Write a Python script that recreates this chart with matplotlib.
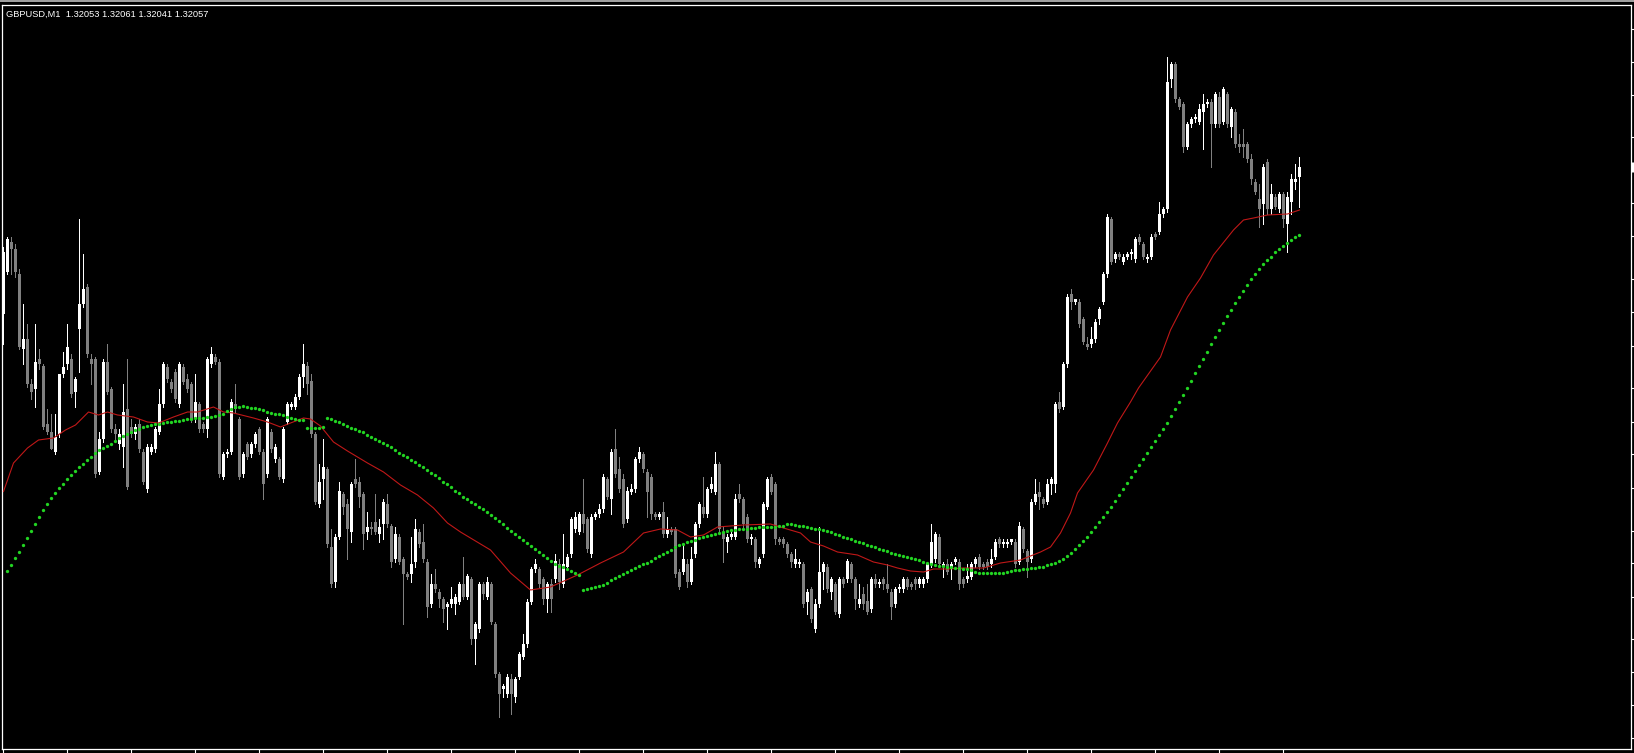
import matplotlib
matplotlib.use("Agg")
import matplotlib.pyplot as plt
import matplotlib.transforms as mtransforms
from matplotlib.patches import Rectangle
import numpy as np

SYMBOL = "GBPUSD,M1"
BASE = 1.31800     # all price values below are points (0.00001) above this level
POINT = 0.00001

# one-minute candles, bar 0 = oldest
opens = [
    198, 215, 227, 224, 214, 184, 188, 170, 168, 180,
    177, 154, 151, 143, 150, 174, 178, 180, 167, 192,
    202, 209, 180, 180, 135, 148, 179, 168, 152, 146,
    145, 160, 153, 150, 154, 143, 128, 143, 144, 151,
    162, 177, 171, 175, 162, 177, 172, 170, 156, 162,
    154, 152, 178, 181, 179, 133, 142, 143, 162, 156,
    134, 146, 142, 146, 152, 143, 134, 151, 140, 140,
    132, 155, 161, 161, 165, 173, 177, 171, 150, 122,
    132, 136, 105, 91, 109, 126, 122, 111, 132, 131,
    126, 111, 113, 115, 110, 114, 122, 113, 100, 109,
    100, 94, 94, 99, 111, 107, 99, 82, 90, 87,
    84, 81, 82, 82, 83, 90, 85, 92, 68, 72,
    90, 85, 90, 74, 54, 48, 46, 52, 45, 53,
    61, 66, 83, 96, 96, 92, 84, 90, 92, 98,
    90, 97, 102, 112, 111, 118, 116, 102, 117, 118,
    120, 132, 124, 144, 136, 132, 116, 127, 128, 140,
    142, 135, 133, 118, 117, 119, 110, 112, 112, 95,
    95, 98, 91, 102, 114, 121, 118, 128, 127, 138,
    111, 107, 109, 109, 126, 124, 117, 108, 108, 98,
    102, 121, 133, 130, 108, 108, 106, 102, 98, 98,
    98, 83, 88, 72, 82, 95, 97, 87, 90, 78,
    92, 92, 98, 92, 82, 86, 83, 80, 92, 90,
    92, 90, 87, 82, 88, 88, 92, 90, 92, 90,
    90, 92, 98, 100, 109, 97, 98, 96, 99, 99,
    92, 92, 93, 98, 101, 98, 99, 98, 101, 108,
    106, 106, 107, 107, 99, 112, 103, 100, 123, 127,
    124, 123, 130, 130, 163, 161, 178, 206, 203, 203,
    196, 186, 186, 188, 196, 203, 214, 236, 220, 222,
    219, 221, 222, 220, 229, 226, 220, 221, 230, 231,
    238, 240, 292, 298, 284, 282, 265, 274, 276, 275,
    279, 282, 283, 274, 285, 275, 286, 273, 279, 266,
    266, 266, 260, 251, 244, 242, 259, 240, 245, 240,
    246, 234, 243, 251, 253,
]
highs = [
    225, 229, 229, 226, 216, 202, 194, 172, 194, 184,
    178, 160, 158, 158, 174, 183, 194, 182, 173, 236,
    222, 210, 182, 181, 151, 180, 186, 169, 154, 152,
    170, 180, 156, 154, 156, 144, 146, 146, 153, 168,
    179, 178, 172, 176, 179, 178, 174, 171, 174, 163,
    155, 181, 185, 182, 180, 143, 144, 164, 170, 157,
    143, 147, 147, 151, 153, 144, 157, 152, 146, 141,
    153, 163, 163, 166, 174, 186, 179, 174, 151, 138,
    148, 137, 112, 110, 131, 127, 124, 131, 140, 133,
    127, 119, 115, 126, 116, 124, 126, 114, 113, 110,
    101, 95, 109, 116, 112, 114, 100, 94, 96, 88,
    85, 83, 89, 86, 91, 101, 94, 93, 75, 91,
    91, 93, 91, 75, 55, 50, 54, 54, 53, 63,
    70, 84, 97, 100, 97, 93, 91, 92, 102, 100,
    110, 102, 117, 119, 119, 132, 117, 118, 119, 122,
    134, 133, 144, 152, 141, 134, 129, 130, 141, 145,
    143, 136, 134, 119, 119, 123, 117, 113, 113, 96,
    106, 100, 105, 115, 123, 133, 129, 133, 143, 139,
    113, 110, 111, 126, 130, 125, 118, 110, 109, 101,
    123, 133, 134, 131, 109, 109, 107, 103, 104, 100,
    99, 88, 89, 84, 113, 99, 98, 93, 91, 93,
    93, 100, 99, 93, 90, 89, 90, 93, 94, 92,
    93, 98, 88, 89, 90, 93, 93, 91, 93, 93,
    93, 99, 114, 111, 110, 99, 100, 99, 101, 100,
    93, 98, 99, 101, 102, 99, 100, 104, 108, 109,
    108, 108, 108, 108, 115, 113, 104, 124, 132, 131,
    125, 132, 133, 163, 167, 179, 206, 208, 204, 204,
    197, 189, 193, 196, 201, 215, 238, 237, 223, 223,
    222, 223, 224, 229, 230, 227, 222, 230, 231, 243,
    241, 301, 299, 299, 285, 283, 275, 277, 278, 282,
    286, 284, 284, 287, 287, 289, 287, 281, 280, 270,
    272, 267, 262, 252, 250, 258, 260, 250, 246, 247,
    247, 247, 254, 258, 261,
]
lows = [
    186, 214, 214, 213, 184, 178, 169, 164, 161, 176,
    152, 150, 144, 142, 149, 173, 176, 165, 161, 175,
    201, 181, 170, 133, 134, 147, 166, 151, 148, 144,
    137, 128, 149, 148, 143, 130, 127, 142, 143, 150,
    161, 171, 167, 163, 161, 170, 167, 155, 155, 151,
    151, 149, 177, 178, 133, 132, 141, 142, 159, 132,
    133, 140, 141, 145, 142, 124, 133, 143, 139, 132,
    131, 154, 160, 160, 164, 169, 166, 149, 122, 121,
    124, 105, 89, 89, 108, 118, 100, 107, 129, 121,
    104, 108, 110, 110, 107, 108, 113, 97, 99, 98,
    74, 92, 91, 97, 105, 99, 77, 81, 87, 81,
    75, 72, 81, 78, 82, 84, 84, 66, 58, 71,
    84, 84, 74, 53, 37, 45, 45, 38, 43, 52,
    60, 65, 82, 95, 89, 82, 79, 79, 91, 88,
    89, 96, 101, 111, 110, 111, 103, 101, 116, 117,
    119, 124, 118, 133, 127, 113, 115, 126, 127, 139,
    135, 117, 116, 116, 116, 109, 109, 110, 93, 88,
    94, 89, 90, 101, 113, 117, 117, 127, 126, 111,
    99, 103, 108, 108, 123, 113, 107, 106, 97, 97,
    101, 120, 126, 106, 106, 105, 101, 97, 97, 97,
    81, 78, 75, 71, 81, 88, 87, 84, 78, 77,
    89, 91, 91, 80, 81, 80, 78, 79, 89, 89,
    88, 87, 76, 81, 87, 87, 88, 88, 88, 89,
    89, 91, 97, 99, 97, 93, 94, 92, 98, 88,
    89, 91, 92, 97, 96, 96, 96, 97, 100, 105,
    105, 105, 106, 97, 98, 103, 93, 99, 122, 120,
    121, 122, 126, 127, 159, 160, 177, 200, 202, 193,
    186, 184, 185, 187, 194, 202, 213, 218, 219, 220,
    218, 220, 220, 219, 226, 220, 219, 220, 228, 230,
    237, 239, 289, 283, 280, 263, 264, 273, 275, 274,
    264, 281, 257, 273, 273, 274, 273, 269, 265, 263,
    261, 259, 250, 246, 233, 234, 238, 238, 240, 239,
    233, 223, 238, 248, 241,
]
closes = [
    223, 228, 224, 215, 185, 188, 170, 167, 179, 178,
    153, 151, 144, 149, 174, 177, 185, 166, 172, 202,
    208, 182, 178, 134, 148, 179, 167, 152, 150, 150,
    159, 129, 150, 153, 144, 131, 145, 145, 152, 162,
    178, 172, 168, 164, 178, 171, 168, 156, 163, 152,
    152, 180, 182, 179, 134, 142, 143, 163, 160, 133,
    142, 141, 146, 150, 143, 130, 156, 144, 145, 133,
    152, 162, 162, 165, 173, 178, 170, 150, 123, 131,
    137, 106, 90, 109, 127, 121, 112, 130, 130, 125,
    110, 113, 112, 111, 113, 123, 114, 99, 110, 99,
    94, 93, 98, 112, 106, 100, 81, 90, 88, 84,
    80, 82, 84, 85, 90, 85, 93, 68, 74, 90,
    86, 91, 75, 54, 46, 49, 53, 46, 52, 62,
    66, 83, 96, 98, 90, 84, 90, 84, 99, 91,
    98, 101, 116, 117, 118, 114, 104, 117, 118, 120,
    133, 125, 143, 134, 128, 114, 127, 128, 140, 143,
    136, 127, 118, 117, 118, 110, 112, 111, 94, 89,
    100, 91, 100, 114, 122, 118, 128, 130, 138, 112,
    108, 109, 110, 124, 124, 114, 108, 109, 99, 100,
    122, 132, 127, 108, 107, 106, 102, 99, 100, 99,
    82, 87, 76, 82, 95, 98, 88, 92, 79, 92,
    90, 99, 92, 84, 84, 82, 79, 92, 90, 91,
    90, 88, 81, 88, 89, 92, 89, 89, 90, 92,
    92, 98, 107, 110, 98, 98, 95, 98, 100, 90,
    90, 93, 98, 100, 97, 97, 97, 100, 107, 106,
    107, 107, 108, 98, 113, 104, 99, 123, 126, 125,
    122, 130, 132, 162, 160, 178, 205, 203, 204, 194,
    187, 185, 188, 195, 200, 214, 237, 219, 222, 221,
    221, 222, 223, 228, 227, 221, 221, 229, 229, 238,
    240, 291, 298, 284, 281, 265, 274, 276, 277, 280,
    282, 283, 274, 286, 274, 288, 274, 280, 266, 265,
    265, 260, 252, 247, 240, 257, 240, 246, 241, 246,
    236, 245, 252, 252, 257,
]

# red moving average, read at these bar positions
ma_red_bar = [0, 2.5, 6, 8.75, 12.5, 15.5, 18, 21.25, 23.75, 26,
              28.5, 32.5, 36, 38.75, 42.5, 46, 48.5, 52.5, 55, 57.5,
              62.5, 66, 69.25, 71.75, 75, 76.75, 79.25, 82.5, 86, 91,
              95, 99.25, 103.5, 107.5, 111, 114.25, 116.75, 121.75, 126.75, 131.75,
              136.75, 143.5, 149.25, 155, 160, 164.25, 168.5, 171.75, 175, 178.5,
              185, 191.75, 195, 199.25, 201.75, 205, 208.5, 213.5, 217.5, 221,
              223.5, 226.75, 230, 232.5, 236, 240, 245, 249.25, 254.25, 259.25,
              261.75, 264.25, 266.75, 268.5, 272.5, 276, 278.5, 281.75, 283.75, 289.25,
              291.75, 296, 299.25, 302.5, 307.5, 310, 312.5, 316, 321, 324]
ma_red_pts = [127, 138.4, 144.4, 147.6, 148.4, 151.6, 153.6, 158.8, 157.6, 158.8,
              157.6, 156.8, 154.8, 154.4, 156.8, 158.8, 158.8, 160.8, 158.8, 158.4,
              156.4, 154.8, 152.8, 154.4, 156.4, 156, 153.2, 146.8, 143.2, 138.4,
              134.8, 129.6, 125.6, 120.4, 114.4, 110.8, 108.4, 103.6, 94.4, 87.6,
              88.8, 93.6, 98.4, 102.8, 110.4, 112, 111.6, 108.8, 109.6, 112.8,
              113.6, 114, 112.4, 110.4, 106.8, 105.2, 102.8, 101.6, 98.8, 97.6,
              96.4, 95.2, 94.8, 96, 96, 96.4, 96.4, 98.4, 99.6, 102.8,
              104.8, 110.4, 118.4, 126.4, 135.6, 146.4, 154.4, 162.8, 168.4, 180.8,
              191.6, 204.8, 212.4, 221.6, 231.6, 235.6, 236.4, 237.6, 238, 239.6]

# green dotted indicator, one dot per bar (none on bar 0)
nan = float("nan")
ma_green_pts = [
    nan,
    95.2, 97.8, 100.4, 103.0, 105.6, 108.5, 111.4, 114.2, 117.0, 119.5,
    121.9, 124.4, 126.4, 128.3, 130.1, 131.9, 133.6, 135.2, 136.8, 138.2,
    139.7, 141.0, 142.3, 143.6, 144.4, 145.2, 146.2, 147.3, 148.4, 149.2,
    150.0, 150.8, 151.5, 152.2, 152.9, 153.3, 153.6, 154.0, 154.2, 154.4,
    154.7, 154.9, 155.2, 155.4, 155.7, 155.9, 156.2, 156.4, 156.5, 156.6,
    156.8, 157.0, 157.4, 157.7, 158.2, 159.1, 159.9, 160.8, 161.0, 161.2,
    160.9, 160.6, 160.4, 160.0, 159.5, 159.0, 158.6, 158.2, 157.9, 157.5,
    157.0, 156.5, 156.2, 155.8, 155.5, 152.4, 152.4, 152.6, 152.6, 152.8,
    156.3, 155.9, 155.2, 154.7, 154.0, 153.2, 152.3, 151.9, 151.2, 150.8,
    149.6, 148.9, 148.0, 147.3, 146.3, 145.6, 144.7, 143.6, 142.5, 141.6,
    140.7, 139.6, 138.7, 137.5, 136.7, 135.6, 134.5, 133.5, 132.3, 130.9,
    129.9, 128.7, 127.3, 126.3, 124.9, 123.9, 122.9, 122.0, 121.0, 120.0,
    119.0, 117.7, 116.4, 115.2, 113.9, 112.6, 111.4, 110.1, 108.8, 107.6,
    106.4, 105.2, 104.0, 102.7, 101.5, 100.3, 99.1, 98.2, 97.4, 96.7,
    95.9, 95.2, 94.4, 93.6, 87.6, 87.9, 88.4, 88.8, 89.3, 89.8,
    90.6, 91.5, 92.3, 93.1, 94.0, 94.8, 95.6, 96.3, 97.1, 97.9,
    98.6, 99.4, 100.3, 101.2, 102.0, 102.9, 103.8, 104.7, 105.6, 106.2,
    106.7, 107.3, 107.8, 108.4, 108.9, 109.3, 109.6, 110.0, 110.4, 110.8,
    111.2, 111.6, 111.8, 111.9, 112.1, 112.2, 112.4, 112.5, 112.7, 112.8,
    112.9, 113.0, 113.0, 113.1, 113.2, 114.0, 113.9, 113.7, 113.4, 113.1,
    112.8, 112.5, 112.2, 112.0, 111.7, 111.3, 110.8, 110.2, 109.6, 109.0,
    108.5, 107.9, 107.4, 106.8, 106.3, 105.7, 105.2, 104.7, 104.1, 103.6,
    103.1, 102.5, 102.1, 101.6, 101.2, 100.8, 100.4, 99.9, 99.5, 99.0,
    98.6, 98.0, 97.5, 97.3, 97.1, 97.0, 96.8, 96.6, 96.4, 96.2,
    96.1, 95.8, 94.8, 94.6, 94.5, 94.4, 94.4, 94.4, 94.5, 94.6,
    95.0, 95.4, 95.6, 95.8, 96.0, 96.2, 96.4, 96.5, 96.7, 96.9,
    97.5, 98.0, 98.6, 99.2, 100.0, 101.2, 102.6, 104.2, 105.6, 107.2,
    109.0, 110.8, 112.8, 114.8, 116.8, 118.8, 120.8, 123.2, 125.6, 128.0,
    130.4, 132.8, 135.2, 137.6, 140.0, 142.4, 144.8, 147.2, 149.6, 152.0,
    154.4, 157.2, 160.0, 162.8, 165.6, 168.4, 171.2, 174.4, 177.2, 180.0,
    182.8, 186.0, 188.8, 191.6, 194.4, 197.2, 199.6, 202.4, 204.8, 207.2,
    209.6, 212.0, 214.0, 216.0, 218.0, 219.6, 221.0, 222.8, 224.0, 225.2,
    226.4, 227.6, 228.8, 229.6,
]

# price scale tick marks on the right edge (labels are cut off in the source)
price_tick_pts = [312.0, 298.8, 285.6, 268.8, 242.4, 229.2, 212.0, 198.8, 185.2,
                  168.4, 154.8, 142.0, 128.4, 111.2, 98.4, 84.8, 68.0, 54.8, 41.6, 28.4]

assert len(opens) == len(highs) == len(lows) == len(closes) == len(ma_green_pts)
assert len(ma_red_bar) == len(ma_red_pts)


def to_price(pts):
    return BASE + np.asarray(pts, dtype=float) * POINT


o = to_price(opens)
h = to_price(highs)
l = to_price(lows)
c = to_price(closes)
x = np.arange(len(c))

W, H = 1634, 753
fig = plt.figure(figsize=(W / 100, H / 100), dpi=100, facecolor="black")
ax = fig.add_axes([2 / W, 4 / H, 1629 / W, 744 / H])
ax.set_facecolor("black")

up = c >= o
col = np.where(up, "#ffffff", "#808080")
body_lo = np.minimum(o, c)
body_h = np.maximum(np.abs(c - o), 0.4 * POINT)

# 4 px per bar; bar centres sit on pixel centres so bodies are a crisp 3 px
ax.vlines(x, np.minimum(l, body_lo), np.maximum(h, body_lo + body_h),
          colors=col, linewidth=0.72, antialiased=False, zorder=2)
ax.bar(x, body_h, bottom=body_lo, width=0.75, color=col, linewidth=0,
       antialiased=False, zorder=3)

ax.plot(ma_red_bar, to_price(ma_red_pts), color="#c01818", linewidth=0.8, zorder=4)
ax.plot(x, to_price(ma_green_pts), linestyle="none", marker="o", markersize=2.4,
        markeredgewidth=0, color="#22d422", zorder=5)

ax.set_xlim(-0.375, 406.875)
ax.set_ylim(BASE + 24.0 * POINT, BASE + 321.6 * POINT)

for s in ax.spines.values():
    s.set_color("white")
    s.set_linewidth(0.9)

ax.set_xticks(range(0, 321, 16))
ax.set_yticks(to_price(price_tick_pts))
ax.yaxis.tick_right()
ax.tick_params(axis="x", direction="out", length=3.5, width=0.8, color="white",
               labelbottom=False)
ax.tick_params(axis="y", direction="out", length=3.0, width=0.8, color="white",
               labelright=False, labelleft=False)

# current price tab on the price scale
blend = mtransforms.blended_transform_factory(ax.transAxes, ax.transData)
ax.plot([1.0015], [c[-1]], transform=blend, marker="|", markersize=7,
        markeredgewidth=2.2, color="white", clip_on=False, zorder=6)

# window strip along the top edge
fig.add_artist(Rectangle((0, 1 - 2 / H), 1, 2 / H, transform=fig.transFigure,
                         facecolor="#a0a0a0", edgecolor="none"))

header = "{}  {:.5f} {:.5f} {:.5f} {:.5f}".format(SYMBOL, o[-1], h[-1], l[-1], c[-1])
fig.text(6 / W, 1 - 14 / H, header, color="white", fontsize=6.7,
         family=["Liberation Sans", "DejaVu Sans"], va="center", ha="left")

fig.savefig("out.png", dpi=100, facecolor="black")
